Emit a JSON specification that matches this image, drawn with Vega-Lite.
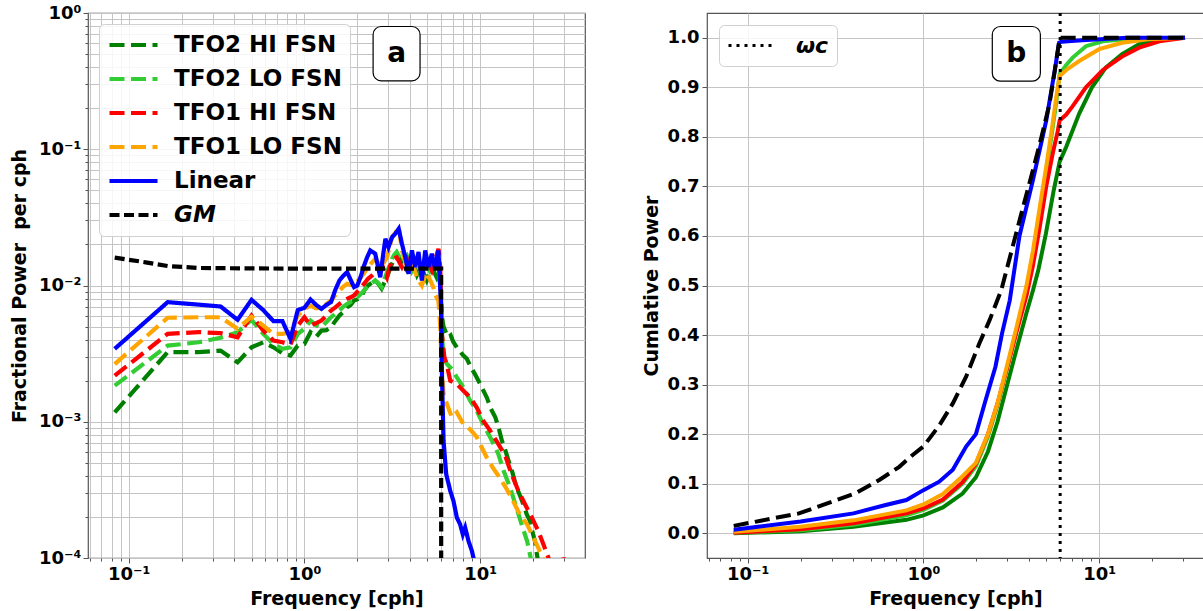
{
  "$schema": "https://vega.github.io/schema/vega-lite/v6.json",
  "background": "white",
  "padding": {"left": 9, "top": 3, "right": 0, "bottom": 0},
  "config": {
    "font": "DejaVu Sans",
    "view": {"stroke": "#555555", "strokeWidth": 1.2},
    "axis": {
      "labelFont": "DejaVu Sans", "labelFontWeight": "bold", "labelFontSize": 18, "labelColor": "black",
      "titleFont": "DejaVu Sans", "titleFontWeight": "bold", "titleFontSize": 19, "titleColor": "black",
      "domain": false, "tickColor": "#555555", "tickWidth": 1, "gridColor": "#c4c4c4", "gridWidth": 1,
      "labelOverlap": false, "labelFlush": false
    }
  },
  "datasets": {
    "spec": [
      {"s":"TFO2 HI FSN","f":0.0833,"p":0.00117},{"s":"TFO2 HI FSN","f":0.1667,"p":0.00324},{"s":"TFO2 HI FSN","f":0.25,"p":0.00324},{"s":"TFO2 HI FSN","f":0.3333,"p":0.00333},{"s":"TFO2 HI FSN","f":0.4167,"p":0.00273},{"s":"TFO2 HI FSN","f":0.5,"p":0.00352},{"s":"TFO2 HI FSN","f":0.5833,"p":0.00383},{"s":"TFO2 HI FSN","f":0.6667,"p":0.00352},{"s":"TFO2 HI FSN","f":0.75,"p":0.00318},{"s":"TFO2 HI FSN","f":0.8333,"p":0.00306},{"s":"TFO2 HI FSN","f":0.9167,"p":0.00362},{"s":"TFO2 HI FSN","f":1.0,"p":0.00372},{"s":"TFO2 HI FSN","f":1.0833,"p":0.00454},{"s":"TFO2 HI FSN","f":1.1667,"p":0.0042},{"s":"TFO2 HI FSN","f":1.25,"p":0.00467},{"s":"TFO2 HI FSN","f":1.3333,"p":0.0047},{"s":"TFO2 HI FSN","f":1.4167,"p":0.00494},{"s":"TFO2 HI FSN","f":1.5,"p":0.0055},{"s":"TFO2 HI FSN","f":1.5833,"p":0.00602},{"s":"TFO2 HI FSN","f":1.6667,"p":0.0064},{"s":"TFO2 HI FSN","f":1.75,"p":0.00693},{"s":"TFO2 HI FSN","f":1.8333,"p":0.0072},{"s":"TFO2 HI FSN","f":1.9167,"p":0.00776},{"s":"TFO2 HI FSN","f":2.0,"p":0.0079},{"s":"TFO2 HI FSN","f":2.1,"p":0.0082},{"s":"TFO2 HI FSN","f":2.2,"p":0.0093},{"s":"TFO2 HI FSN","f":2.3,"p":0.01},{"s":"TFO2 HI FSN","f":2.42,"p":0.0105},{"s":"TFO2 HI FSN","f":2.53,"p":0.0109},{"s":"TFO2 HI FSN","f":2.65,"p":0.0102},{"s":"TFO2 HI FSN","f":2.75,"p":0.0095},{"s":"TFO2 HI FSN","f":2.85,"p":0.0105},{"s":"TFO2 HI FSN","f":2.95,"p":0.0115},{"s":"TFO2 HI FSN","f":3.05,"p":0.013},{"s":"TFO2 HI FSN","f":3.15,"p":0.01444},{"s":"TFO2 HI FSN","f":3.25,"p":0.0158},{"s":"TFO2 HI FSN","f":3.35,"p":0.0171},{"s":"TFO2 HI FSN","f":3.47,"p":0.0158},{"s":"TFO2 HI FSN","f":3.59,"p":0.01444},{"s":"TFO2 HI FSN","f":3.71,"p":0.0137},{"s":"TFO2 HI FSN","f":3.83,"p":0.0129},{"s":"TFO2 HI FSN","f":3.96,"p":0.014},{"s":"TFO2 HI FSN","f":4.09,"p":0.0153},{"s":"TFO2 HI FSN","f":4.23,"p":0.0135},{"s":"TFO2 HI FSN","f":4.37,"p":0.0119},{"s":"TFO2 HI FSN","f":4.5,"p":0.0128},{"s":"TFO2 HI FSN","f":4.66,"p":0.01365},{"s":"TFO2 HI FSN","f":4.8,"p":0.0121},{"s":"TFO2 HI FSN","f":4.97,"p":0.0109},{"s":"TFO2 HI FSN","f":5.14,"p":0.0122},{"s":"TFO2 HI FSN","f":5.31,"p":0.01365},{"s":"TFO2 HI FSN","f":5.48,"p":0.0125},{"s":"TFO2 HI FSN","f":5.65,"p":0.0115},{"s":"TFO2 HI FSN","f":5.8,"p":0.0125},{"s":"TFO2 HI FSN","f":5.93,"p":0.0103},{"s":"TFO2 HI FSN","f":6.05,"p":0.006},{"s":"TFO2 HI FSN","f":6.19,"p":0.005},{"s":"TFO2 HI FSN","f":6.4,"p":0.0045},{"s":"TFO2 HI FSN","f":6.61,"p":0.00417},{"s":"TFO2 HI FSN","f":6.8,"p":0.0043},{"s":"TFO2 HI FSN","f":7.05,"p":0.00383},{"s":"TFO2 HI FSN","f":7.5,"p":0.0034},{"s":"TFO2 HI FSN","f":8.03,"p":0.00306},{"s":"TFO2 HI FSN","f":8.4,"p":0.0029},{"s":"TFO2 HI FSN","f":8.77,"p":0.00258},{"s":"TFO2 HI FSN","f":9.4,"p":0.0022},{"s":"TFO2 HI FSN","f":10.0,"p":0.00189},{"s":"TFO2 HI FSN","f":10.9,"p":0.00151},{"s":"TFO2 HI FSN","f":11.5,"p":0.00125},{"s":"TFO2 HI FSN","f":12.2,"p":0.00108},{"s":"TFO2 HI FSN","f":12.8,"p":0.00088},{"s":"TFO2 HI FSN","f":13.3,"p":0.000725},{"s":"TFO2 HI FSN","f":13.9,"p":0.00062},{"s":"TFO2 HI FSN","f":14.5,"p":0.000517},{"s":"TFO2 HI FSN","f":15.3,"p":0.00042},{"s":"TFO2 HI FSN","f":16.1,"p":0.000329},{"s":"TFO2 HI FSN","f":16.8,"p":0.00029},{"s":"TFO2 HI FSN","f":17.6,"p":0.000248},{"s":"TFO2 HI FSN","f":18.4,"p":0.00021},{"s":"TFO2 HI FSN","f":19.2,"p":0.000187},{"s":"TFO2 HI FSN","f":20.0,"p":0.00015},{"s":"TFO2 HI FSN","f":20.5,"p":0.000133},{"s":"TFO2 HI FSN","f":21.2,"p":0.0001},{"s":"TFO2 HI FSN","f":21.8,"p":0.00008},

      {"s":"TFO2 LO FSN","f":0.0833,"p":0.00184},{"s":"TFO2 LO FSN","f":0.1667,"p":0.00362},{"s":"TFO2 LO FSN","f":0.25,"p":0.00383},{"s":"TFO2 LO FSN","f":0.3333,"p":0.00413},{"s":"TFO2 LO FSN","f":0.4167,"p":0.00454},{"s":"TFO2 LO FSN","f":0.5,"p":0.0056},{"s":"TFO2 LO FSN","f":0.5833,"p":0.00441},{"s":"TFO2 LO FSN","f":0.6667,"p":0.00372},{"s":"TFO2 LO FSN","f":0.75,"p":0.00343},{"s":"TFO2 LO FSN","f":0.8333,"p":0.00352},{"s":"TFO2 LO FSN","f":0.9167,"p":0.00441},{"s":"TFO2 LO FSN","f":1.0,"p":0.00481},{"s":"TFO2 LO FSN","f":1.0833,"p":0.00553},{"s":"TFO2 LO FSN","f":1.1667,"p":0.0051},{"s":"TFO2 LO FSN","f":1.25,"p":0.00494},{"s":"TFO2 LO FSN","f":1.3333,"p":0.0054},{"s":"TFO2 LO FSN","f":1.4167,"p":0.00585},{"s":"TFO2 LO FSN","f":1.5,"p":0.0062},{"s":"TFO2 LO FSN","f":1.5833,"p":0.00655},{"s":"TFO2 LO FSN","f":1.6667,"p":0.007},{"s":"TFO2 LO FSN","f":1.75,"p":0.00733},{"s":"TFO2 LO FSN","f":1.8333,"p":0.0076},{"s":"TFO2 LO FSN","f":1.9167,"p":0.00798},{"s":"TFO2 LO FSN","f":2.0,"p":0.0082},{"s":"TFO2 LO FSN","f":2.1,"p":0.00869},{"s":"TFO2 LO FSN","f":2.2,"p":0.0093},{"s":"TFO2 LO FSN","f":2.3,"p":0.01},{"s":"TFO2 LO FSN","f":2.42,"p":0.0104},{"s":"TFO2 LO FSN","f":2.53,"p":0.0109},{"s":"TFO2 LO FSN","f":2.65,"p":0.0103},{"s":"TFO2 LO FSN","f":2.75,"p":0.00972},{"s":"TFO2 LO FSN","f":2.85,"p":0.011},{"s":"TFO2 LO FSN","f":2.95,"p":0.01254},{"s":"TFO2 LO FSN","f":3.05,"p":0.014},{"s":"TFO2 LO FSN","f":3.15,"p":0.0157},{"s":"TFO2 LO FSN","f":3.25,"p":0.0168},{"s":"TFO2 LO FSN","f":3.35,"p":0.0176},{"s":"TFO2 LO FSN","f":3.47,"p":0.0162},{"s":"TFO2 LO FSN","f":3.59,"p":0.01485},{"s":"TFO2 LO FSN","f":3.71,"p":0.0158},{"s":"TFO2 LO FSN","f":3.83,"p":0.0166},{"s":"TFO2 LO FSN","f":3.96,"p":0.0148},{"s":"TFO2 LO FSN","f":4.09,"p":0.0129},{"s":"TFO2 LO FSN","f":4.23,"p":0.0142},{"s":"TFO2 LO FSN","f":4.37,"p":0.0157},{"s":"TFO2 LO FSN","f":4.5,"p":0.0135},{"s":"TFO2 LO FSN","f":4.66,"p":0.0115},{"s":"TFO2 LO FSN","f":4.8,"p":0.013},{"s":"TFO2 LO FSN","f":4.97,"p":0.01444},{"s":"TFO2 LO FSN","f":5.14,"p":0.013},{"s":"TFO2 LO FSN","f":5.31,"p":0.0119},{"s":"TFO2 LO FSN","f":5.48,"p":0.0135},{"s":"TFO2 LO FSN","f":5.65,"p":0.0153},{"s":"TFO2 LO FSN","f":5.8,"p":0.0135},{"s":"TFO2 LO FSN","f":5.93,"p":0.00972},{"s":"TFO2 LO FSN","f":6.05,"p":0.0045},{"s":"TFO2 LO FSN","f":6.19,"p":0.00297},{"s":"TFO2 LO FSN","f":6.47,"p":0.00265},{"s":"TFO2 LO FSN","f":6.9,"p":0.00244},{"s":"TFO2 LO FSN","f":7.37,"p":0.00212},{"s":"TFO2 LO FSN","f":8.03,"p":0.00179},{"s":"TFO2 LO FSN","f":8.77,"p":0.00143},{"s":"TFO2 LO FSN","f":9.57,"p":0.0012},{"s":"TFO2 LO FSN","f":10.4,"p":0.00096},{"s":"TFO2 LO FSN","f":11.4,"p":0.00077},{"s":"TFO2 LO FSN","f":12.2,"p":0.000648},{"s":"TFO2 LO FSN","f":12.7,"p":0.000578},{"s":"TFO2 LO FSN","f":13.6,"p":0.000436},{"s":"TFO2 LO FSN","f":14.8,"p":0.000329},{"s":"TFO2 LO FSN","f":16.1,"p":0.000234},{"s":"TFO2 LO FSN","f":17.2,"p":0.000177},{"s":"TFO2 LO FSN","f":18.5,"p":0.000133},{"s":"TFO2 LO FSN","f":19.4,"p":0.0001},{"s":"TFO2 LO FSN","f":20.2,"p":0.00008},

      {"s":"TFO1 HI FSN","f":0.0833,"p":0.00218},{"s":"TFO1 HI FSN","f":0.1667,"p":0.00442},{"s":"TFO1 HI FSN","f":0.25,"p":0.00455},{"s":"TFO1 HI FSN","f":0.3333,"p":0.00447},{"s":"TFO1 HI FSN","f":0.4167,"p":0.00417},{"s":"TFO1 HI FSN","f":0.5,"p":0.00602},{"s":"TFO1 HI FSN","f":0.5833,"p":0.00467},{"s":"TFO1 HI FSN","f":0.6667,"p":0.00394},{"s":"TFO1 HI FSN","f":0.75,"p":0.00383},{"s":"TFO1 HI FSN","f":0.8333,"p":0.00369},{"s":"TFO1 HI FSN","f":0.9167,"p":0.00508},{"s":"TFO1 HI FSN","f":1.0,"p":0.00585},{"s":"TFO1 HI FSN","f":1.0833,"p":0.00508},{"s":"TFO1 HI FSN","f":1.1667,"p":0.0053},{"s":"TFO1 HI FSN","f":1.25,"p":0.00553},{"s":"TFO1 HI FSN","f":1.3333,"p":0.006},{"s":"TFO1 HI FSN","f":1.4167,"p":0.00655},{"s":"TFO1 HI FSN","f":1.5,"p":0.0069},{"s":"TFO1 HI FSN","f":1.5833,"p":0.00733},{"s":"TFO1 HI FSN","f":1.6667,"p":0.0077},{"s":"TFO1 HI FSN","f":1.75,"p":0.00798},{"s":"TFO1 HI FSN","f":1.8333,"p":0.0082},{"s":"TFO1 HI FSN","f":1.9167,"p":0.00845},{"s":"TFO1 HI FSN","f":2.0,"p":0.009},{"s":"TFO1 HI FSN","f":2.1,"p":0.00972},{"s":"TFO1 HI FSN","f":2.2,"p":0.0104},{"s":"TFO1 HI FSN","f":2.3,"p":0.0112},{"s":"TFO1 HI FSN","f":2.42,"p":0.0118},{"s":"TFO1 HI FSN","f":2.53,"p":0.01254},{"s":"TFO1 HI FSN","f":2.65,"p":0.0135},{"s":"TFO1 HI FSN","f":2.75,"p":0.01444},{"s":"TFO1 HI FSN","f":2.85,"p":0.0128},{"s":"TFO1 HI FSN","f":2.95,"p":0.0115},{"s":"TFO1 HI FSN","f":3.05,"p":0.0135},{"s":"TFO1 HI FSN","f":3.15,"p":0.01528},{"s":"TFO1 HI FSN","f":3.25,"p":0.0158},{"s":"TFO1 HI FSN","f":3.35,"p":0.0161},{"s":"TFO1 HI FSN","f":3.47,"p":0.0148},{"s":"TFO1 HI FSN","f":3.59,"p":0.01365},{"s":"TFO1 HI FSN","f":3.71,"p":0.0148},{"s":"TFO1 HI FSN","f":3.83,"p":0.0157},{"s":"TFO1 HI FSN","f":3.96,"p":0.0138},{"s":"TFO1 HI FSN","f":4.09,"p":0.0122},{"s":"TFO1 HI FSN","f":4.23,"p":0.0138},{"s":"TFO1 HI FSN","f":4.37,"p":0.0153},{"s":"TFO1 HI FSN","f":4.5,"p":0.0138},{"s":"TFO1 HI FSN","f":4.66,"p":0.0125},{"s":"TFO1 HI FSN","f":4.8,"p":0.0142},{"s":"TFO1 HI FSN","f":4.97,"p":0.0157},{"s":"TFO1 HI FSN","f":5.14,"p":0.0142},{"s":"TFO1 HI FSN","f":5.31,"p":0.0129},{"s":"TFO1 HI FSN","f":5.48,"p":0.0146},{"s":"TFO1 HI FSN","f":5.6,"p":0.0161},{"s":"TFO1 HI FSN","f":5.79,"p":0.0186},{"s":"TFO1 HI FSN","f":5.93,"p":0.01365},{"s":"TFO1 HI FSN","f":6.05,"p":0.0045},{"s":"TFO1 HI FSN","f":6.25,"p":0.003},{"s":"TFO1 HI FSN","f":6.47,"p":0.0026},{"s":"TFO1 HI FSN","f":6.76,"p":0.002},{"s":"TFO1 HI FSN","f":7.37,"p":0.00189},{"s":"TFO1 HI FSN","f":8.03,"p":0.00169},{"s":"TFO1 HI FSN","f":8.77,"p":0.00151},{"s":"TFO1 HI FSN","f":9.57,"p":0.00127},{"s":"TFO1 HI FSN","f":10.4,"p":0.00102},{"s":"TFO1 HI FSN","f":11.4,"p":0.00086},{"s":"TFO1 HI FSN","f":12.7,"p":0.000685},{"s":"TFO1 HI FSN","f":13.9,"p":0.000562},{"s":"TFO1 HI FSN","f":15.1,"p":0.000412},{"s":"TFO1 HI FSN","f":16.5,"p":0.000311},{"s":"TFO1 HI FSN","f":18.0,"p":0.000248},{"s":"TFO1 HI FSN","f":19.7,"p":0.000198},{"s":"TFO1 HI FSN","f":21.4,"p":0.000158},{"s":"TFO1 HI FSN","f":22.9,"p":0.000126},{"s":"TFO1 HI FSN","f":24.5,"p":0.0001},{"s":"TFO1 HI FSN","f":25.5,"p":0.00008},{"s":"TFO1 HI FSN","f":28.8,"p":0.00008},{"s":"TFO1 HI FSN","f":29.7,"p":0.000104},{"s":"TFO1 HI FSN","f":30.4,"p":0.00008},

      {"s":"TFO1 LO FSN","f":0.0833,"p":0.00265},{"s":"TFO1 LO FSN","f":0.1667,"p":0.0058},{"s":"TFO1 LO FSN","f":0.25,"p":0.00585},{"s":"TFO1 LO FSN","f":0.3333,"p":0.00585},{"s":"TFO1 LO FSN","f":0.4167,"p":0.00481},{"s":"TFO1 LO FSN","f":0.5,"p":0.00591},{"s":"TFO1 LO FSN","f":0.5833,"p":0.00508},{"s":"TFO1 LO FSN","f":0.6667,"p":0.00441},{"s":"TFO1 LO FSN","f":0.75,"p":0.00441},{"s":"TFO1 LO FSN","f":0.8333,"p":0.00455},{"s":"TFO1 LO FSN","f":0.9167,"p":0.00602},{"s":"TFO1 LO FSN","f":1.0,"p":0.00674},{"s":"TFO1 LO FSN","f":1.0833,"p":0.0071},{"s":"TFO1 LO FSN","f":1.1667,"p":0.0068},{"s":"TFO1 LO FSN","f":1.25,"p":0.0069},{"s":"TFO1 LO FSN","f":1.3333,"p":0.0073},{"s":"TFO1 LO FSN","f":1.4167,"p":0.00776},{"s":"TFO1 LO FSN","f":1.5,"p":0.0085},{"s":"TFO1 LO FSN","f":1.5833,"p":0.00919},{"s":"TFO1 LO FSN","f":1.6667,"p":0.0098},{"s":"TFO1 LO FSN","f":1.75,"p":0.0103},{"s":"TFO1 LO FSN","f":1.8333,"p":0.0101},{"s":"TFO1 LO FSN","f":1.9167,"p":0.01},{"s":"TFO1 LO FSN","f":2.0,"p":0.0107},{"s":"TFO1 LO FSN","f":2.1,"p":0.0115},{"s":"TFO1 LO FSN","f":2.2,"p":0.0125},{"s":"TFO1 LO FSN","f":2.3,"p":0.01365},{"s":"TFO1 LO FSN","f":2.42,"p":0.0147},{"s":"TFO1 LO FSN","f":2.53,"p":0.0157},{"s":"TFO1 LO FSN","f":2.65,"p":0.0145},{"s":"TFO1 LO FSN","f":2.75,"p":0.01365},{"s":"TFO1 LO FSN","f":2.85,"p":0.015},{"s":"TFO1 LO FSN","f":2.95,"p":0.0161},{"s":"TFO1 LO FSN","f":3.05,"p":0.019},{"s":"TFO1 LO FSN","f":3.15,"p":0.0226},{"s":"TFO1 LO FSN","f":3.3,"p":0.0245},{"s":"TFO1 LO FSN","f":3.44,"p":0.0269},{"s":"TFO1 LO FSN","f":3.59,"p":0.0181},{"s":"TFO1 LO FSN","f":3.71,"p":0.0155},{"s":"TFO1 LO FSN","f":3.83,"p":0.01365},{"s":"TFO1 LO FSN","f":3.96,"p":0.014},{"s":"TFO1 LO FSN","f":4.09,"p":0.01444},{"s":"TFO1 LO FSN","f":4.23,"p":0.013},{"s":"TFO1 LO FSN","f":4.37,"p":0.0115},{"s":"TFO1 LO FSN","f":4.5,"p":0.0107},{"s":"TFO1 LO FSN","f":4.66,"p":0.01},{"s":"TFO1 LO FSN","f":4.8,"p":0.0112},{"s":"TFO1 LO FSN","f":4.97,"p":0.0125},{"s":"TFO1 LO FSN","f":5.14,"p":0.0113},{"s":"TFO1 LO FSN","f":5.31,"p":0.0103},{"s":"TFO1 LO FSN","f":5.44,"p":0.0095},{"s":"TFO1 LO FSN","f":5.54,"p":0.0087},{"s":"TFO1 LO FSN","f":5.7,"p":0.008},{"s":"TFO1 LO FSN","f":5.79,"p":0.00776},{"s":"TFO1 LO FSN","f":5.93,"p":0.005},{"s":"TFO1 LO FSN","f":6.05,"p":0.0025},{"s":"TFO1 LO FSN","f":6.19,"p":0.0016},{"s":"TFO1 LO FSN","f":6.47,"p":0.00135},{"s":"TFO1 LO FSN","f":6.9,"p":0.00108},{"s":"TFO1 LO FSN","f":7.37,"p":0.00117},{"s":"TFO1 LO FSN","f":8.03,"p":0.00096},{"s":"TFO1 LO FSN","f":8.77,"p":0.00088},{"s":"TFO1 LO FSN","f":9.57,"p":0.00077},{"s":"TFO1 LO FSN","f":10.2,"p":0.00065},{"s":"TFO1 LO FSN","f":10.9,"p":0.000547},{"s":"TFO1 LO FSN","f":11.8,"p":0.000461},{"s":"TFO1 LO FSN","f":12.9,"p":0.00039},{"s":"TFO1 LO FSN","f":14.0,"p":0.000329},{"s":"TFO1 LO FSN","f":15.4,"p":0.000262},{"s":"TFO1 LO FSN","f":16.8,"p":0.000209},{"s":"TFO1 LO FSN","f":18.5,"p":0.000177},{"s":"TFO1 LO FSN","f":20.1,"p":0.000141},{"s":"TFO1 LO FSN","f":21.4,"p":0.000119},{"s":"TFO1 LO FSN","f":22.7,"p":0.0001},{"s":"TFO1 LO FSN","f":23.5,"p":0.00008},

      {"s":"Linear","f":0.0833,"p":0.00343},{"s":"Linear","f":0.1667,"p":0.00755},{"s":"Linear","f":0.3333,"p":0.00702},{"s":"Linear","f":0.4167,"p":0.0056},{"s":"Linear","f":0.5,"p":0.00785},{"s":"Linear","f":0.5833,"p":0.0066},{"s":"Linear","f":0.6667,"p":0.00547},{"s":"Linear","f":0.75,"p":0.00547},{"s":"Linear","f":0.8333,"p":0.00406},{"s":"Linear","f":0.9167,"p":0.0066},{"s":"Linear","f":1.0,"p":0.00686},{"s":"Linear","f":1.0833,"p":0.00789},{"s":"Linear","f":1.1667,"p":0.0072},{"s":"Linear","f":1.25,"p":0.00674},{"s":"Linear","f":1.3333,"p":0.0072},{"s":"Linear","f":1.4167,"p":0.00755},{"s":"Linear","f":1.5,"p":0.0093},{"s":"Linear","f":1.5833,"p":0.0109},{"s":"Linear","f":1.6667,"p":0.0118},{"s":"Linear","f":1.75,"p":0.01254},{"s":"Linear","f":1.8333,"p":0.011},{"s":"Linear","f":1.9167,"p":0.00972},{"s":"Linear","f":2.0,"p":0.01},{"s":"Linear","f":2.1,"p":0.0118},{"s":"Linear","f":2.17,"p":0.01365},{"s":"Linear","f":2.27,"p":0.016},{"s":"Linear","f":2.37,"p":0.0181},{"s":"Linear","f":2.53,"p":0.0171},{"s":"Linear","f":2.7,"p":0.0115},{"s":"Linear","f":2.8,"p":0.0165},{"s":"Linear","f":2.89,"p":0.022},{"s":"Linear","f":3.01,"p":0.0191},{"s":"Linear","f":3.15,"p":0.0226},{"s":"Linear","f":3.29,"p":0.024},{"s":"Linear","f":3.44,"p":0.0261},{"s":"Linear","f":3.59,"p":0.0202},{"s":"Linear","f":3.75,"p":0.0161},{"s":"Linear","f":3.92,"p":0.0122},{"s":"Linear","f":4.09,"p":0.0181},{"s":"Linear","f":4.27,"p":0.01365},{"s":"Linear","f":4.46,"p":0.0176},{"s":"Linear","f":4.66,"p":0.0109},{"s":"Linear","f":4.87,"p":0.0181},{"s":"Linear","f":5.08,"p":0.01365},{"s":"Linear","f":5.31,"p":0.0171},{"s":"Linear","f":5.54,"p":0.0133},{"s":"Linear","f":5.79,"p":0.0181},{"s":"Linear","f":5.93,"p":0.00946},{"s":"Linear","f":5.98,"p":0.0078},{"s":"Linear","f":6.05,"p":0.0025},{"s":"Linear","f":6.19,"p":0.000725},{"s":"Linear","f":6.41,"p":0.000412},{"s":"Linear","f":6.76,"p":0.000311},{"s":"Linear","f":7.05,"p":0.000262},{"s":"Linear","f":7.37,"p":0.000198},{"s":"Linear","f":7.69,"p":0.000177},{"s":"Linear","f":7.97,"p":0.000149},{"s":"Linear","f":8.22,"p":0.000167},{"s":"Linear","f":8.59,"p":0.000133},{"s":"Linear","f":8.97,"p":0.000113},{"s":"Linear","f":9.25,"p":0.000095},{"s":"Linear","f":9.4,"p":0.00008},

      {"s":"GM","f":0.0833,"p":0.016},{"s":"GM","f":0.125,"p":0.0148},{"s":"GM","f":0.1667,"p":0.0139},{"s":"GM","f":0.25,"p":0.01345},{"s":"GM","f":0.3333,"p":0.0134},{"s":"GM","f":0.5,"p":0.01335},{"s":"GM","f":1.0,"p":0.0133},{"s":"GM","f":6.0,"p":0.0133},{"s":"GM","f":6.001,"p":0.00001}
    ],
    "cum": [
      {"s":"TFO2 HI FSN","f":0.0833,"c":0.0},{"s":"TFO2 HI FSN","f":0.2,"c":0.004},{"s":"TFO2 HI FSN","f":0.4,"c":0.013},{"s":"TFO2 HI FSN","f":0.8,"c":0.027},{"s":"TFO2 HI FSN","f":1.0,"c":0.036},{"s":"TFO2 HI FSN","f":1.29,"c":0.052},{"s":"TFO2 HI FSN","f":1.67,"c":0.08},{"s":"TFO2 HI FSN","f":1.99,"c":0.113},{"s":"TFO2 HI FSN","f":2.33,"c":0.165},{"s":"TFO2 HI FSN","f":2.64,"c":0.225},{"s":"TFO2 HI FSN","f":3.0,"c":0.3},{"s":"TFO2 HI FSN","f":3.41,"c":0.375},{"s":"TFO2 HI FSN","f":3.86,"c":0.445},{"s":"TFO2 HI FSN","f":4.2,"c":0.49},{"s":"TFO2 HI FSN","f":4.5,"c":0.53},{"s":"TFO2 HI FSN","f":4.98,"c":0.605},{"s":"TFO2 HI FSN","f":5.5,"c":0.69},{"s":"TFO2 HI FSN","f":5.96,"c":0.75},{"s":"TFO2 HI FSN","f":6.5,"c":0.78},{"s":"TFO2 HI FSN","f":7.7,"c":0.847},{"s":"TFO2 HI FSN","f":9.1,"c":0.9},{"s":"TFO2 HI FSN","f":10.9,"c":0.94},{"s":"TFO2 HI FSN","f":13.5,"c":0.967},{"s":"TFO2 HI FSN","f":16.9,"c":0.987},{"s":"TFO2 HI FSN","f":22.0,"c":0.997},{"s":"TFO2 HI FSN","f":30.8,"c":1.0},

      {"s":"TFO2 LO FSN","f":0.0833,"c":0.001},{"s":"TFO2 LO FSN","f":0.2,"c":0.006},{"s":"TFO2 LO FSN","f":0.4,"c":0.017},{"s":"TFO2 LO FSN","f":0.8,"c":0.036},{"s":"TFO2 LO FSN","f":1.0,"c":0.047},{"s":"TFO2 LO FSN","f":1.29,"c":0.066},{"s":"TFO2 LO FSN","f":1.67,"c":0.1},{"s":"TFO2 LO FSN","f":1.99,"c":0.135},{"s":"TFO2 LO FSN","f":2.33,"c":0.195},{"s":"TFO2 LO FSN","f":2.64,"c":0.258},{"s":"TFO2 LO FSN","f":3.0,"c":0.335},{"s":"TFO2 LO FSN","f":3.41,"c":0.415},{"s":"TFO2 LO FSN","f":3.86,"c":0.49},{"s":"TFO2 LO FSN","f":4.2,"c":0.555},{"s":"TFO2 LO FSN","f":4.6,"c":0.645},{"s":"TFO2 LO FSN","f":5.0,"c":0.73},{"s":"TFO2 LO FSN","f":5.4,"c":0.81},{"s":"TFO2 LO FSN","f":5.7,"c":0.87},{"s":"TFO2 LO FSN","f":5.96,"c":0.927},{"s":"TFO2 LO FSN","f":6.5,"c":0.945},{"s":"TFO2 LO FSN","f":7.07,"c":0.96},{"s":"TFO2 LO FSN","f":8.41,"c":0.983},{"s":"TFO2 LO FSN","f":10.5,"c":0.993},{"s":"TFO2 LO FSN","f":16.2,"c":0.999},{"s":"TFO2 LO FSN","f":30.8,"c":1.0},

      {"s":"TFO1 HI FSN","f":0.0833,"c":0.001},{"s":"TFO1 HI FSN","f":0.2,"c":0.008},{"s":"TFO1 HI FSN","f":0.4,"c":0.02},{"s":"TFO1 HI FSN","f":0.8,"c":0.04},{"s":"TFO1 HI FSN","f":1.0,"c":0.05},{"s":"TFO1 HI FSN","f":1.29,"c":0.068},{"s":"TFO1 HI FSN","f":1.67,"c":0.103},{"s":"TFO1 HI FSN","f":1.99,"c":0.14},{"s":"TFO1 HI FSN","f":2.33,"c":0.2},{"s":"TFO1 HI FSN","f":2.64,"c":0.262},{"s":"TFO1 HI FSN","f":3.0,"c":0.335},{"s":"TFO1 HI FSN","f":3.41,"c":0.41},{"s":"TFO1 HI FSN","f":3.86,"c":0.48},{"s":"TFO1 HI FSN","f":4.2,"c":0.54},{"s":"TFO1 HI FSN","f":4.6,"c":0.62},{"s":"TFO1 HI FSN","f":5.0,"c":0.7},{"s":"TFO1 HI FSN","f":5.47,"c":0.77},{"s":"TFO1 HI FSN","f":5.8,"c":0.81},{"s":"TFO1 HI FSN","f":5.96,"c":0.833},{"s":"TFO1 HI FSN","f":6.5,"c":0.845},{"s":"TFO1 HI FSN","f":7.07,"c":0.862},{"s":"TFO1 HI FSN","f":8.41,"c":0.9},{"s":"TFO1 HI FSN","f":10.5,"c":0.935},{"s":"TFO1 HI FSN","f":13.5,"c":0.962},{"s":"TFO1 HI FSN","f":16.9,"c":0.98},{"s":"TFO1 HI FSN","f":22.0,"c":0.993},{"s":"TFO1 HI FSN","f":30.8,"c":1.0},

      {"s":"TFO1 LO FSN","f":0.0833,"c":0.003},{"s":"TFO1 LO FSN","f":0.2,"c":0.013},{"s":"TFO1 LO FSN","f":0.4,"c":0.026},{"s":"TFO1 LO FSN","f":0.8,"c":0.046},{"s":"TFO1 LO FSN","f":1.0,"c":0.058},{"s":"TFO1 LO FSN","f":1.29,"c":0.079},{"s":"TFO1 LO FSN","f":1.67,"c":0.115},{"s":"TFO1 LO FSN","f":1.99,"c":0.142},{"s":"TFO1 LO FSN","f":2.33,"c":0.2},{"s":"TFO1 LO FSN","f":2.64,"c":0.262},{"s":"TFO1 LO FSN","f":3.0,"c":0.34},{"s":"TFO1 LO FSN","f":3.41,"c":0.42},{"s":"TFO1 LO FSN","f":3.86,"c":0.5},{"s":"TFO1 LO FSN","f":4.2,"c":0.57},{"s":"TFO1 LO FSN","f":4.6,"c":0.66},{"s":"TFO1 LO FSN","f":5.0,"c":0.74},{"s":"TFO1 LO FSN","f":5.4,"c":0.82},{"s":"TFO1 LO FSN","f":5.7,"c":0.88},{"s":"TFO1 LO FSN","f":5.96,"c":0.923},{"s":"TFO1 LO FSN","f":6.5,"c":0.935},{"s":"TFO1 LO FSN","f":7.7,"c":0.953},{"s":"TFO1 LO FSN","f":10.0,"c":0.977},{"s":"TFO1 LO FSN","f":13.5,"c":0.99},{"s":"TFO1 LO FSN","f":19.0,"c":0.997},{"s":"TFO1 LO FSN","f":30.8,"c":1.0},

      {"s":"Linear","f":0.0833,"c":0.007},{"s":"Linear","f":0.2,"c":0.0235},{"s":"Linear","f":0.4,"c":0.04},{"s":"Linear","f":0.61,"c":0.057},{"s":"Linear","f":0.8,"c":0.067},{"s":"Linear","f":1.0,"c":0.087},{"s":"Linear","f":1.23,"c":0.104},{"s":"Linear","f":1.47,"c":0.128},{"s":"Linear","f":1.75,"c":0.175},{"s":"Linear","f":1.99,"c":0.2},{"s":"Linear","f":2.26,"c":0.269},{"s":"Linear","f":2.57,"c":0.336},{"s":"Linear","f":2.8,"c":0.403},{"s":"Linear","f":3.1,"c":0.47},{"s":"Linear","f":3.52,"c":0.6},{"s":"Linear","f":4.2,"c":0.713},{"s":"Linear","f":5.0,"c":0.833},{"s":"Linear","f":5.58,"c":0.933},{"s":"Linear","f":5.92,"c":0.99},{"s":"Linear","f":6.1,"c":0.992},{"s":"Linear","f":8.0,"c":0.995},{"s":"Linear","f":14.5,"c":1.0},{"s":"Linear","f":30.8,"c":1.0},

      {"s":"GM","f":0.0833,"c":0.0148},{"s":"GM","f":0.196,"c":0.04},{"s":"GM","f":0.304,"c":0.064},{"s":"GM","f":0.413,"c":0.081},{"s":"GM","f":0.561,"c":0.1075},{"s":"GM","f":0.729,"c":0.134},{"s":"GM","f":0.869,"c":0.158},{"s":"GM","f":1.0,"c":0.175},{"s":"GM","f":1.234,"c":0.218},{"s":"GM","f":1.47,"c":0.262},{"s":"GM","f":1.75,"c":0.316},{"s":"GM","f":2.08,"c":0.383},{"s":"GM","f":2.38,"c":0.43},{"s":"GM","f":2.77,"c":0.49},{"s":"GM","f":3.23,"c":0.58},{"s":"GM","f":3.7,"c":0.66},{"s":"GM","f":4.2,"c":0.733},{"s":"GM","f":4.7,"c":0.8},{"s":"GM","f":5.22,"c":0.867},{"s":"GM","f":5.6,"c":0.935},{"s":"GM","f":5.96,"c":1.0},{"s":"GM","f":30.8,"c":1.0}
    ]
  },
  "bounds": "flush",
  "spacing": 122,
  "resolve": {
    "scale": {"color": "independent", "strokeDash": "independent", "strokeWidth": "independent"},
    "legend": {"color": "independent", "strokeDash": "independent", "strokeWidth": "independent"}
  },
  "hconcat": [
    {
      "width": 497,
      "height": 545,
      "layer": [
        {
          "data": {"name": "spec"},
          "mark": {"type": "line", "clip": true, "strokeCap": "butt"},
          "encoding": {
            "x": {
              "field": "f", "type": "quantitative", "title": "Frequency [cph]",
              "scale": {"type": "log", "domain": [0.0587, 39.5], "nice": false},
              "axis": {
                "values": [0.06,0.07,0.08,0.09,0.1,0.2,0.3,0.4,0.5,0.6,0.7,0.8,0.9,1,2,3,4,5,6,7,8,9,10,20,30],
                "labelExpr": "abs(log(datum.value)/LN10 - round(log(datum.value)/LN10)) < 0.001 ? '10' + ['⁻⁴','⁻³','⁻²','⁻¹','⁰','¹'][round(log(datum.value)/LN10) + 4] : ''",
                "tickSize": {"condition": {"test": "abs(log(datum.value)/LN10 - round(log(datum.value)/LN10)) < 0.001", "value": 5}, "value": 3},
                "labelPadding": 2, "titlePadding": 6, "grid": true
              }
            },
            "y": {
              "field": "p", "type": "quantitative", "title": "Fractional Power\u00a0 per cph",
              "scale": {"type": "log", "domain": [0.0001, 1], "nice": false},
              "axis": {
                "values": [0.0001,0.0002,0.0003,0.0004,0.0005,0.0006,0.0007,0.0008,0.0009,0.001,0.002,0.003,0.004,0.005,0.006,0.007,0.008,0.009,0.01,0.02,0.03,0.04,0.05,0.06,0.07,0.08,0.09,0.1,0.2,0.3,0.4,0.5,0.6,0.7,0.8,0.9,1],
                "labelExpr": "abs(log(datum.value)/LN10 - round(log(datum.value)/LN10)) < 0.001 ? '10' + ['⁻⁴','⁻³','⁻²','⁻¹','⁰','¹'][round(log(datum.value)/LN10) + 4] : ''",
                "tickSize": {"condition": {"test": "abs(log(datum.value)/LN10 - round(log(datum.value)/LN10)) < 0.001", "value": 5}, "value": 3},
                "labelPadding": 2, "titlePadding": 9, "grid": true
              }
            },
            "color": {
              "field": "s", "type": "nominal",
              "scale": {"domain": ["TFO2 HI FSN","TFO2 LO FSN","TFO1 HI FSN","TFO1 LO FSN","Linear","GM"], "range": ["#008000","#32cd32","#ff0000","#ffa500","#0000ff","#000000"]},
              "legend": {
                "title": null, "orient": "top-left", "offset": 11,
                "symbolType": "stroke", "symbolSize": 2304,
                "labelFont": "DejaVu Sans", "labelFontSize": 23, "labelFontWeight": "bold", "labelColor": "black",
                "labelFontStyle": {"expr": "datum.label === 'GM' ? 'italic' : 'normal'"},
                "labelOffset": 14, "labelLimit": 300, "clipHeight": 26, "rowPadding": 8, "padding": 8,
                "fillColor": "rgba(255,255,255,0.85)", "strokeColor": "#d0d0d0", "cornerRadius": 5
              }
            },
            "strokeDash": {
              "field": "s", "type": "nominal",
              "scale": {"domain": ["TFO2 HI FSN","TFO2 LO FSN","TFO1 HI FSN","TFO1 LO FSN","Linear","GM"], "range": [[15,6.5],[15,6.5],[15,6.5],[15,6.5],[1,0],[10,4.5]]}
            },
            "strokeWidth": {
              "field": "s", "type": "nominal",
              "scale": {"domain": ["TFO2 HI FSN","TFO2 LO FSN","TFO1 HI FSN","TFO1 LO FSN","Linear","GM"], "range": [4.2,4.2,4.2,4.2,4.2,2.7]}
            }
          }
        },
        {
          "data": {"values": [{"x1": 2.46, "x2": 4.55, "y1": 0.318, "y2": 0.796}]},
          "mark": {"type": "rect", "fill": "white", "stroke": "black", "strokeWidth": 1.2, "cornerRadius": 8},
          "encoding": {
            "x": {"field": "x1", "type": "quantitative"}, "x2": {"field": "x2"},
            "y": {"field": "y1", "type": "quantitative"}, "y2": {"field": "y2"}
          }
        },
        {
          "data": {"values": [{"x": 3.35, "y": 0.503, "t": "a"}]},
          "mark": {"type": "text", "fontSize": 28, "fontWeight": "bold", "align": "center", "baseline": "middle", "color": "black"},
          "encoding": {
            "x": {"field": "x", "type": "quantitative"},
            "y": {"field": "y", "type": "quantitative"},
            "text": {"field": "t"}
          }
        }
      ]
    },
    {
      "width": 497,
      "height": 545,
      "layer": [
        {
          "data": {"name": "cum"},
          "transform": [{"filter": "datum.s !== 'GM'"}],
          "mark": {"type": "line", "clip": true, "strokeWidth": 4},
          "encoding": {
            "x": {
              "field": "f", "type": "quantitative", "title": "Frequency [cph]",
              "scale": {"type": "log", "domain": [0.0587, 39.5], "nice": false},
              "axis": {
                "values": [0.06,0.07,0.08,0.09,0.1,0.2,0.3,0.4,0.5,0.6,0.7,0.8,0.9,1,2,3,4,5,6,7,8,9,10,20,30],
                "labelExpr": "abs(log(datum.value)/LN10 - round(log(datum.value)/LN10)) < 0.001 ? '10' + ['⁻⁴','⁻³','⁻²','⁻¹','⁰','¹'][round(log(datum.value)/LN10) + 4] : ''",
                "tickSize": {"condition": {"test": "abs(log(datum.value)/LN10 - round(log(datum.value)/LN10)) < 0.001", "value": 5}, "value": 3},
                "gridOpacity": {"condition": {"test": "abs(log(datum.value)/LN10 - round(log(datum.value)/LN10)) < 0.001", "value": 1}, "value": 0},
                "labelPadding": 2, "titlePadding": 6, "grid": true
              }
            },
            "y": {
              "field": "c", "type": "quantitative", "title": "Cumlative Power",
              "scale": {"domain": [-0.05, 1.05], "nice": false, "zero": false},
              "axis": {
                "values": [0,0.1,0.2,0.3,0.4,0.5,0.6,0.7,0.8,0.9,1.0],
                "format": ".1f", "tickSize": 5, "labelPadding": 3, "titlePadding": 6, "grid": true
              }
            },
            "color": {
              "field": "s", "type": "nominal", "legend": null,
              "scale": {"domain": ["TFO2 HI FSN","TFO2 LO FSN","TFO1 HI FSN","TFO1 LO FSN","Linear"], "range": ["#008000","#32cd32","#ff0000","#ffa500","#0000ff"]}
            }
          }
        },
        {
          "data": {"name": "cum"},
          "transform": [{"filter": "datum.s === 'GM'"}],
          "mark": {"type": "line", "clip": true, "strokeWidth": 4, "color": "black", "strokeDash": [15, 6.5]},
          "encoding": {
            "x": {"field": "f", "type": "quantitative"},
            "y": {"field": "c", "type": "quantitative"}
          }
        },
        {
          "data": {"values": [{"f": 6.0, "k": "ωc"}]},
          "mark": {"type": "rule", "color": "black", "strokeWidth": 3},
          "encoding": {
            "x": {"field": "f", "type": "quantitative"},
            "strokeDash": {
              "field": "k", "type": "nominal",
              "scale": {"domain": ["ωc"], "range": [[3, 5]]},
              "legend": {
                "title": null, "orient": "top-left", "offset": 12,
                "symbolType": "stroke", "symbolSize": 1849, "symbolStrokeWidth": 3, "symbolStrokeColor": "black",
                "labelFont": "DejaVu Sans", "labelFontSize": 22, "labelFontWeight": "bold", "labelFontStyle": "italic", "labelColor": "black",
                "labelOffset": 23, "clipHeight": 25, "padding": 8,
                "fillColor": "rgba(255,255,255,0.85)", "strokeColor": "#d0d0d0", "cornerRadius": 5
              }
            }
          }
        },
        {
          "data": {"values": [{"x1": 2.466, "x2": 4.63, "y1": 0.9125, "y2": 1.0228}]},
          "mark": {"type": "rect", "fill": "white", "stroke": "black", "strokeWidth": 1.2, "cornerRadius": 8},
          "encoding": {
            "x": {"field": "x1", "type": "quantitative"}, "x2": {"field": "x2"},
            "y": {"field": "y1", "type": "quantitative"}, "y2": {"field": "y2"}
          }
        },
        {
          "data": {"values": [{"x": 3.38, "y": 0.9677, "t": "b"}]},
          "mark": {"type": "text", "fontSize": 28, "fontWeight": "bold", "align": "center", "baseline": "middle", "color": "black"},
          "encoding": {
            "x": {"field": "x", "type": "quantitative"},
            "y": {"field": "y", "type": "quantitative"},
            "text": {"field": "t"}
          }
        }
      ]
    }
  ]
}
